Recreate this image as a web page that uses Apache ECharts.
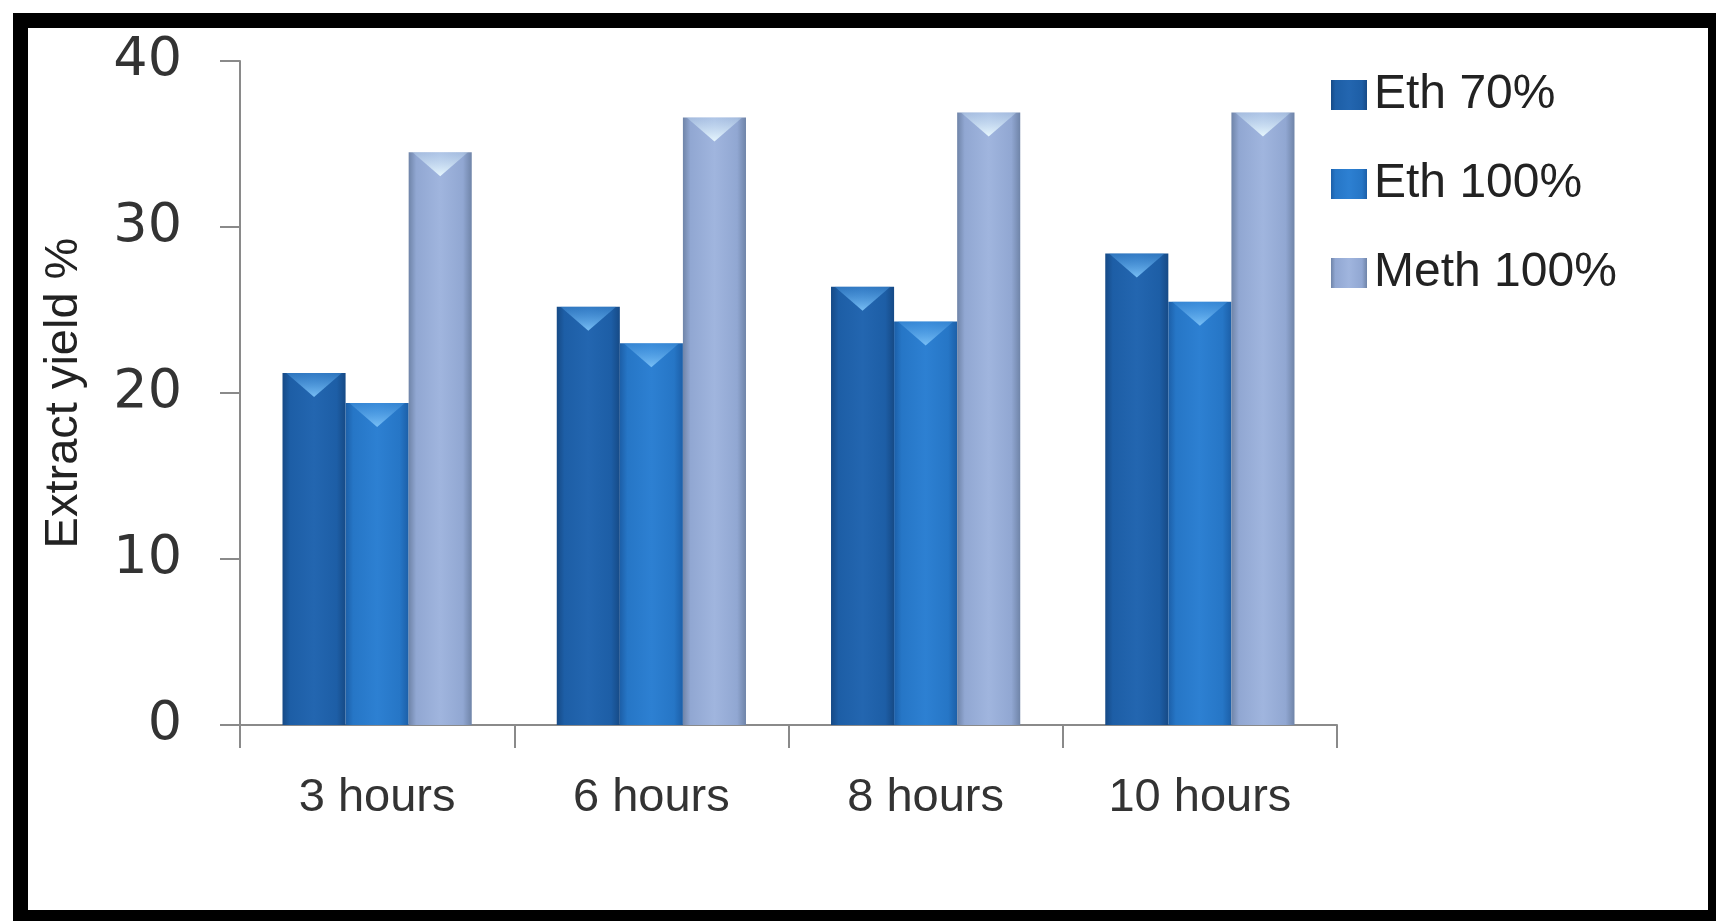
<!DOCTYPE html>
<html>
<head>
<meta charset="utf-8">
<title>Extract yield</title>
<script src="https://cdn.jsdelivr.net/npm/echarts@6/dist/echarts.min.js"></script>
<style>
  html, body { margin: 0; padding: 0; background: #ffffff; }
  #chart { width: 1716px; height: 921px; }
</style>
</head>
<body>
<div id="chart"></div>
<script>
// Extraction time groups
const categories = ['3 hours', '6 hours', '8 hours', '10 hours'];

// Extract yield (%) per solvent
const eth70 = [21.2, 25.2, 26.4, 28.4];
const eth100 = [19.4, 23.0, 24.3, 25.5];
const meth100 = [34.5, 36.6, 36.9, 36.9];

const seriesNames = ['Eth 70%', 'Eth 100%', 'Meth 100%'];
const yAxisTitle = 'Extract yield %';

// Value axis range
const yMin = 0;
const yMax = 40;
const yStep = 10;

// Cylinder-like shading: darker edges, lighter centre
function shade(edge, base, light) {
  return new echarts.graphic.LinearGradient(0, 0, 1, 0, [
    { offset: 0, color: edge },
    { offset: 0.12, color: base },
    { offset: 0.5, color: light },
    { offset: 0.86, color: base },
    { offset: 1, color: edge }
  ]);
}

const palettes = [
  shade('#164a86', '#1d5ea6', '#2366b0'),
  shade('#1c5fa8', '#2676c6', '#2d80d2'),
  shade('#6f84a8', '#91a7d2', '#a0b5de')
];

const values = [eth70, eth100, meth100];

const barGap = '0%';
const barCategoryGap = '31%';

const bars = values.map((v, i) => ({
  name: seriesNames[i],
  type: 'bar',
  data: v,
  barGap: barGap,
  barCategoryGap: barCategoryGap,
  itemStyle: { color: palettes[i] },
  z: 2
}));

// Light bevel chevrons at the top of each bar
const chevrons = values.map((v, i) => ({
  name: seriesNames[i],
  type: 'pictorialBar',
  data: v,
  barGap: barGap,
  barCategoryGap: barCategoryGap,
  symbol: 'triangle',
  symbolRotate: 180,
  symbolSize: ['88%', 24],
  symbolPosition: 'end',
  itemStyle: {
    color: new echarts.graphic.LinearGradient(0, 0, 0, 1, [
      { offset: 0, color: i === 2 ? 'rgba(235,250,255,0.95)' : 'rgba(125,195,248,0.95)' },
      { offset: 1, color: i === 2 ? 'rgba(200,225,245,0.35)' : 'rgba(75,155,228,0.4)' }
    ])
  },
  silent: true,
  z: 3
}));

const chart = echarts.init(document.getElementById('chart'), null, { renderer: 'canvas' });

chart.setOption({
  animation: false,
  backgroundColor: '#ffffff',
  graphic: [{
    type: 'rect',
    shape: { x: 20.5, y: 20.5, width: 1695, height: 897 },
    style: { fill: 'none', stroke: '#000000', lineWidth: 15 },
    z: 10
  }],
  grid: {
    left: 240,
    right: 379,
    top: 61,
    bottom: 196,
    containLabel: false
  },
  legend: {
    orient: 'vertical',
    left: 1326,
    top: 66,
    itemWidth: 36,
    itemHeight: 30,
    itemGap: 41,
    icon: 'rect',
    data: seriesNames,
    textStyle: {
      fontFamily: 'Liberation Sans',
      fontSize: 48,
      color: '#222222',
      padding: [0, 0, 0, 2]
    }
  },
  xAxis: {
    type: 'category',
    data: categories,
    axisLine: { show: true, lineStyle: { color: '#8a8a8a', width: 2 } },
    axisTick: { show: true, length: 23, alignWithLabel: false, lineStyle: { color: '#8a8a8a', width: 2 } },
    axisLabel: {
      margin: 50,
      fontFamily: 'Liberation Sans',
      fontSize: 47,
      color: '#333333'
    },
    splitLine: { show: false }
  },
  yAxis: {
    type: 'value',
    min: yMin,
    max: yMax,
    interval: yStep,
    name: yAxisTitle,
    nameLocation: 'middle',
    nameRotate: 90,
    nameGap: 152,
    nameTextStyle: {
      fontFamily: 'Liberation Sans',
      fontSize: 47,
      color: '#222222'
    },
    axisLine: { show: true, lineStyle: { color: '#8a8a8a', width: 2 } },
    axisTick: { show: true, length: 20, lineStyle: { color: '#8a8a8a', width: 2 } },
    axisLabel: {
      margin: 58,
      fontFamily: 'DejaVu Sans',
      fontSize: 54,
      color: '#333333'
    },
    splitLine: { show: false }
  },
  series: bars.concat(chevrons)
});
</script>
</body>
</html>
